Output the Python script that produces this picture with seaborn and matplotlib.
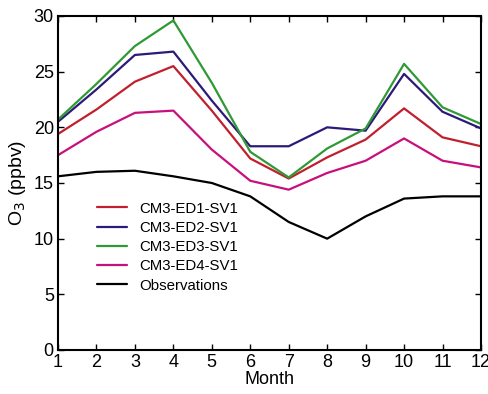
import numpy as np
import pandas as pd
import seaborn as sns
import matplotlib.pyplot as plt

months = list(range(1, 13))
ed1 = [19.4, 21.6, 24.1, 25.5, 21.5, 17.2, 15.4, 17.3, 18.9, 21.7, 19.1, 18.3]
ed2 = [20.5, 23.4, 26.5, 26.8, 22.4, 18.3, 18.3, 20.0, 19.7, 24.8, 21.4, 19.9]
ed3 = [20.7, 23.9, 27.3, 29.6, 24.0, 17.8, 15.5, 18.1, 19.9, 25.7, 21.8, 20.3]
ed4 = [17.5, 19.6, 21.3, 21.5, 18.0, 15.2, 14.4, 15.9, 17.0, 19.0, 17.0, 16.4]
obs = [15.6, 16.0, 16.1, 15.6, 15.0, 13.8, 11.5, 10.0, 12.0, 13.6, 13.8, 13.8]

names = ['CM3-ED1-SV1', 'CM3-ED2-SV1', 'CM3-ED3-SV1', 'CM3-ED4-SV1', 'Observations']
colors = ['#c0202e', '#2c1a78', '#2f9a35', '#c8107c', '#000000']

df = pd.concat([pd.DataFrame({'Month': months, 'O3': v, 'series': n})
                for n, v in zip(names, [ed1, ed2, ed3, ed4, obs])])

sns.set_style('ticks')
plt.rcParams['font.family'] = ['Liberation Sans', 'DejaVu Sans']
plt.rcParams['text.color'] = 'black'
plt.rcParams['axes.labelcolor'] = 'black'
plt.rcParams['xtick.color'] = 'black'
plt.rcParams['ytick.color'] = 'black'

fig = plt.figure(figsize=(4.89, 3.94), dpi=100)
ax = fig.add_axes([0.1186, 0.1117, 0.865, 0.8477])
sns.lineplot(data=df, x='Month', y='O3', hue='series', hue_order=names,
             palette=dict(zip(names, colors)), lw=1.6, ax=ax)

ax.set_xlim(1, 12)
ax.set_ylim(0, 30)
ax.set_xticks(months)
ax.set_yticks(range(0, 31, 5))
ax.tick_params(direction='in', length=4, width=1, labelsize=13, top=True, right=True,
               labeltop=False, labelright=False, pad=3)
for s in ax.spines.values():
    s.set_linewidth(1.5)
    s.set_color('black')
ax.set_xlabel('Month', fontsize=13, labelpad=0)
ax.set_ylabel('O$_3$ (ppbv)', fontsize=14, labelpad=4)
ax.legend(loc='upper left', bbox_to_anchor=(0.06, 0.485), frameon=False, fontsize=10.8,
          handlelength=2.0, labelspacing=0.35, handletextpad=0.8)
fig.savefig('out.png', dpi=100)
